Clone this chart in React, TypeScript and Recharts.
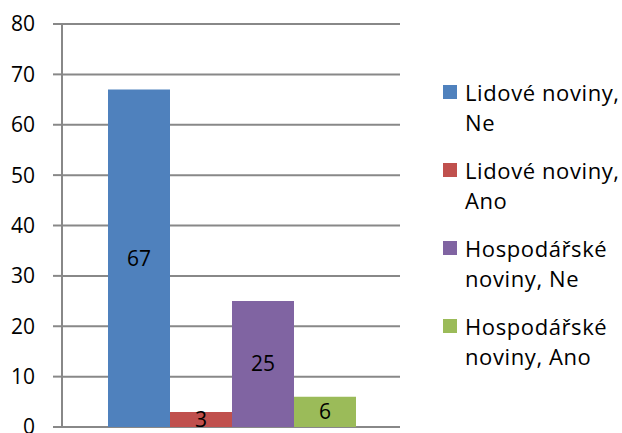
import { BarChart, Bar, XAxis, YAxis, CartesianGrid, LabelList, Legend } from 'recharts';

const seriesKeys = ['lnNe', 'lnAno', 'hnNe', 'hnAno'];
const seriesNames = ['Lidové noviny, Ne', 'Lidové noviny, Ano', 'Hospodářské noviny, Ne', 'Hospodářské noviny, Ano'];
const seriesValues = [67, 3, 25, 6];
const seriesColors = ['#4F81BD', '#C0504D', '#8064A2', '#9BBB59'];
const yTicks = [0, 10, 20, 30, 40, 50, 60, 70, 80];

const row: Record<string, number | string> = { name: '' };
seriesKeys.forEach((k, i) => {
    row[k] = seriesValues[i];
});
const data = [row];

const font = '"Open Sans", sans-serif';

function LegendBox() {
    return (
        <div style={{ fontFamily: font, fontSize: 22, letterSpacing: 0.6, lineHeight: '30px', color: '#000' }}>
            {seriesNames.map((name, i) => (
                <div key={name} style={{ position: 'relative', paddingLeft: 22, marginBottom: 18, width: 160 }}>
                    <span
                        style={{
                            position: 'absolute', left: 0, top: 8, width: 14, height: 14,
                            background: seriesColors[i],
                        }}
                    />
                    {name}
                </div>
            ))}
        </div>
    );
}

export default function App() {
    return (
        <div style={{ position: 'absolute', left: 0, top: 0, width: 622, height: 433, background: '#fff' }}>
            <BarChart
                width={622}
                height={433}
                data={data}
                margin={{ top: 24, right: 222, bottom: 6, left: 0 }}
                barCategoryGap={46}
                barGap={0}
            >
                <CartesianGrid vertical={false} stroke="#888888" strokeWidth={2} />
                <XAxis dataKey="name" hide />
                <YAxis
                    width={62}
                    domain={[0, 80]}
                    ticks={yTicks}
                    interval={0}
                    tickSize={9}
                    tickMargin={18}
                    axisLine={{ stroke: '#888888', strokeWidth: 2 }}
                    tickLine={{ stroke: '#888888', strokeWidth: 2 }}
                    tick={{ fill: '#000', fontSize: 21, fontFamily: font }}
                />
                <Legend
                    layout="vertical"
                    align="center"
                    verticalAlign="middle"
                    wrapperStyle={{ left: 443, top: 77, width: 179 }}
                    content={() => <LegendBox />}
                />
                {seriesKeys.map((k, i) => (
                    <Bar key={k} dataKey={k} name={seriesNames[i]} fill={seriesColors[i]} isAnimationActive={false}>
                        <LabelList dataKey={k} position="center" fill="#000" fontSize={21} fontFamily={font} />
                    </Bar>
                ))}
            </BarChart>
        </div>
    );
}
